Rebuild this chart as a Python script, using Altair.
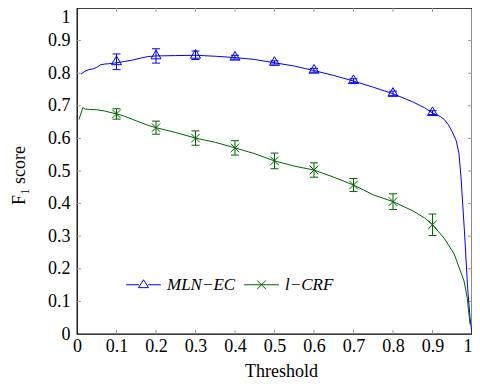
import altair as alt
import pandas as pd

# ---------------- data ----------------
SERIES = ["MLN−EC", "l−CRF"]
COLORS = ["#0000ff", "#006400"]

MLN_T = [0.01, 0.02, 0.03, 0.04, 0.05, 0.06, 0.07, 0.08, 0.10, 0.12, 0.14, 0.16, 0.18,
         0.20, 0.25, 0.30, 0.35, 0.40, 0.45, 0.50, 0.55, 0.60, 0.65, 0.70, 0.75, 0.80,
         0.85, 0.88, 0.90, 0.92, 0.93, 0.94, 0.95, 0.96, 0.967, 0.972, 0.981, 0.989,
         0.995, 1.0]
MLN_F1 = [0.797, 0.806, 0.811, 0.813, 0.818, 0.826, 0.828, 0.829, 0.832, 0.836, 0.840,
          0.846, 0.851, 0.853, 0.854, 0.855, 0.852, 0.848, 0.842, 0.832, 0.822, 0.808,
          0.793, 0.776, 0.757, 0.737, 0.712, 0.694, 0.678, 0.667, 0.658, 0.642, 0.620,
          0.593, 0.554, 0.483, 0.313, 0.140, 0.050, 0.0]

CRF_T = [0.005, 0.015, 0.02, 0.03, 0.05, 0.07, 0.10, 0.12, 0.15, 0.18, 0.20, 0.25, 0.30,
         0.35, 0.40, 0.45, 0.50, 0.55, 0.60, 0.65, 0.70, 0.75, 0.80, 0.85, 0.88, 0.90,
         0.93, 0.955, 0.967, 0.98, 0.988, 0.995]
CRF_F1 = [0.658, 0.695, 0.690, 0.689, 0.688, 0.684, 0.675, 0.668, 0.654, 0.640, 0.633,
          0.618, 0.601, 0.588, 0.571, 0.553, 0.531, 0.515, 0.503, 0.481, 0.457, 0.427,
          0.406, 0.378, 0.356, 0.335, 0.293, 0.245, 0.205, 0.162, 0.110, 0.030]

MARK_T = [0.1, 0.2, 0.3, 0.4, 0.5, 0.6, 0.7, 0.8, 0.9]
MLN_MEAN = [0.835, 0.853, 0.855, 0.849, 0.833, 0.809, 0.777, 0.738, 0.679]
MLN_ERR = [0.024, 0.022, 0.013, 0.006, 0.005, 0.006, 0.006, 0.007, 0.006]
CRF_MEAN = [0.675, 0.633, 0.601, 0.571, 0.531, 0.503, 0.457, 0.406, 0.335]
CRF_ERR = [0.016, 0.020, 0.022, 0.022, 0.024, 0.022, 0.020, 0.024, 0.033]

AXIS_VALUES = [0, 0.1, 0.2, 0.3, 0.4, 0.5, 0.6, 0.7, 0.8, 0.9, 1]
INNER_TICKS = [0.1, 0.2, 0.3, 0.4, 0.5, 0.6, 0.7, 0.8, 0.9]

# ---------------- tables ----------------
curves = pd.DataFrame({
    "t": MLN_T + CRF_T,
    "f1": MLN_F1 + CRF_F1,
    "series": [SERIES[0]] * len(MLN_T) + [SERIES[1]] * len(CRF_T),
})
marks = pd.DataFrame({
    "t": MARK_T + MARK_T,
    "mean": MLN_MEAN + CRF_MEAN,
    "lo": [m - e for m, e in zip(MLN_MEAN, MLN_ERR)] + [m - e for m, e in zip(CRF_MEAN, CRF_ERR)],
    "hi": [m + e for m, e in zip(MLN_MEAN, MLN_ERR)] + [m + e for m, e in zip(CRF_MEAN, CRF_ERR)],
    "series": [SERIES[0]] * len(MARK_T) + [SERIES[1]] * len(MARK_T),
})
ticks = pd.DataFrame({"v": INNER_TICKS})

# ---------------- styling ----------------
W, H = 395, 326
FONT = "Liberation Serif"
MARKER_PATHS = ["M0,-1L0.866,0.5L-0.866,0.5Z", "M-1,-1L1,1M-1,1L1,-1"]
MARKER_SIZES = [134, 74]
LEGEND_PATHS = ["M-3,0L-0.8,0M0.8,0L3,0M0,-0.866L0.866,0.5L-0.866,0.5Z",
                "M-3,0L3,0M-0.75,-0.75L0.75,0.75M-0.75,0.75L0.75,-0.75"]

xs = alt.Scale(domain=[0, 1], nice=False, zero=False)
ys = alt.Scale(domain=[0, 1], nice=False, zero=False)

xaxis = alt.Axis(values=AXIS_VALUES, format="~g", ticks=False, domain=False, grid=False,
                 labelFlush=False, labelOverlap=False, labelFont=FONT, labelFontSize=18,
                 labelColor="black", labelPadding=3,
                 labelAlign={"condition": {"test": "datum.value == 1", "value": "right"},
                             "value": "center"},
                 title="Threshold", titleFont=FONT, titleX=204,
                 titleFontSize=18, titleFontWeight="normal", titleColor="black",
                 titlePadding=7)
yaxis = alt.Axis(values=AXIS_VALUES, format="~g", ticks=False, domain=False, grid=False,
                 labelFlush=False, labelOverlap=False, labelFont=FONT, labelFontSize=18,
                 labelColor="black", labelPadding=7,
                 labelBaseline={"condition": {"test": "datum.value == 1", "value": "top"},
                                "value": "middle"},
                 title="F₁ score", titleFont=FONT, titleY=167,
                 titleFontSize=18, titleFontWeight="normal", titleColor="black",
                 titlePadding=19)


def X(field):
    return alt.X(field, type="quantitative", scale=xs, axis=xaxis, title="Threshold")


def Y(field):
    return alt.Y(field, type="quantitative", scale=ys, axis=yaxis, title="F₁ score")


layers = []

TC = "#999999"
layers.append(alt.Chart(ticks).mark_rule(color=TC, strokeWidth=1).encode(
    x=X("v"), y=alt.value(H), y2=alt.value(H - 4)))
layers.append(alt.Chart(ticks).mark_rule(color=TC, strokeWidth=1).encode(
    x=X("v"), y=alt.value(0), y2=alt.value(4)))
layers.append(alt.Chart(ticks).mark_rule(color=TC, strokeWidth=1).encode(
    y=Y("v"), x=alt.value(0), x2=alt.value(4)))
layers.append(alt.Chart(ticks).mark_rule(color=TC, strokeWidth=1).encode(
    y=Y("v"), x=alt.value(W - 4), x2=alt.value(W)))

for i, s in enumerate(SERIES):
    col = COLORS[i]
    cdata = alt.Chart(curves).transform_filter(alt.datum.series == s)
    mdata = alt.Chart(marks).transform_filter(alt.datum.series == s)
    layers.append(cdata.mark_line(strokeWidth=1, color=col).encode(x=X("t"), y=Y("f1")))
    layers.append(mdata.mark_rule(strokeWidth=1, color=col).encode(
        x=X("t"), y=Y("lo"), y2="hi"))
    layers.append(mdata.mark_tick(orient="horizontal", size=8, thickness=1, opacity=1,
                                  color=col).encode(x=X("t"), y=Y("lo")))
    layers.append(mdata.mark_tick(orient="horizontal", size=8, thickness=1, opacity=1,
                                  color=col).encode(x=X("t"), y=Y("hi")))
    layers.append(mdata.mark_point(shape=MARKER_PATHS[i], size=MARKER_SIZES[i], filled=False,
                                   strokeWidth=1, opacity=1, color=col).encode(
        x=X("t"), y=Y("mean")))

leg = dict(orient="none", legendX=58, legendY=268, direction="horizontal", title=None,
           symbolSize=134, symbolStrokeWidth=1, labelFont=FONT, labelFontSize=17,
           labelFontStyle="italic", labelColor="black", labelOffset=15, columnPadding=6,
           padding=0)
layers.append(alt.Chart(marks).mark_point(filled=False, opacity=0).encode(
    x=X("t"), y=Y("mean"),
    color=alt.Color("series:N", scale=alt.Scale(domain=SERIES, range=COLORS),
                    legend=alt.Legend(**leg)),
    shape=alt.Shape("series:N", scale=alt.Scale(domain=SERIES, range=LEGEND_PATHS),
                    legend=alt.Legend(**leg)),
))

chart = alt.layer(*layers).properties(
    width=W, height=H,
    padding={"left": 69, "top": 0, "right": 0, "bottom": 46},
    autosize=alt.AutoSizeParams(type="none"),
    background="white",
).configure(font=FONT).configure_axis(labelFont=FONT, titleFont=FONT).configure_legend(
    labelFont=FONT
).configure_view(stroke="black", strokeWidth=1.3)

chart.save("out.html", embed_options={"renderer": "svg", "actions": False})
